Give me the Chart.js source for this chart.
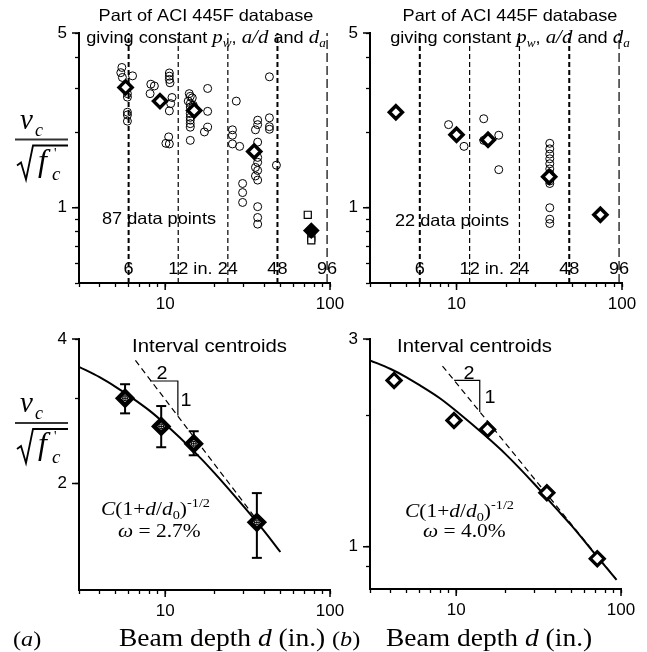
<!DOCTYPE html>
<html>
<head>
<meta charset="utf-8">
<script src="https://cdn.jsdelivr.net/npm/chart.js@4"></script>
<style>
  body { margin: 0; background: #fff; }
  #wrap { position: relative; width: 647px; height: 652px; }
  #wrap canvas { position: absolute; left: 0; top: 0; }
</style>
</head>
<body>
<div id="wrap">
  <canvas id="tl" width="647" height="652"></canvas>
  <canvas id="tr" width="647" height="652"></canvas>
  <canvas id="bl" width="647" height="652"></canvas>
  <canvas id="br" width="647" height="652"></canvas>
</div>
<script>
// ---- data (d in inches, y = v_c / sqrt(f'c)) ----
// (a) top: 87 tests of the ACI 445F subset
const testsA_d = [5.46, 5.38, 5.5, 6.34, 5.9, 5.9, 5.9, 5.9, 5.9,
  8.18, 8.6, 8.1, 10.6, 10.6, 10.6, 10.7, 11.0, 10.8, 10.6, 10.5, 10.1, 10.6,
  14.0, 14.2, 13.8, 14.2, 14.2, 14.2, 14.2, 14.2, 14.2, 14.2, 14.2, 14.6, 14.8, 18.1, 18.1, 18.1, 17.3,
  27.0, 25.6, 25.6, 25.6, 28.3, 29.5, 29.5, 29.5,
  42.9, 36.4, 36.4, 35.3, 42.9, 42.9, 42.9, 36.4, 36.4, 35.3, 36.4, 35.3, 36.4, 36.4, 47.3, 36.4, 36.4, 36.4];
const testsA_v = [3.64, 3.47, 3.32, 3.37, 2.86, 2.77, 2.41, 2.35, 2.22,
  3.12, 3.07, 2.86, 3.46, 3.36, 3.26, 3.16, 2.76, 2.61, 2.44, 1.92, 1.81, 1.80,
  2.86, 2.79, 2.67, 2.61, 2.53, 2.38, 2.30, 2.24, 2.17, 2.10, 1.86, 2.75, 2.57, 3.0, 2.43, 2.10, 2.01,
  2.67, 2.05, 1.95, 1.80, 1.76, 1.25, 1.15, 1.05,
  3.34, 2.24, 2.15, 2.05, 2.29, 2.11, 2.06, 1.83, 1.59, 1.45, 1.41, 1.34, 1.29, 1.52, 1.48, 1.01, 0.914, 0.86];
const largeA_d = [73.3, 77, 77];
const largeA_v = [0.937, 0.76, 0.74];
const largeMeanA_d = [77];
const largeMeanA_v = [0.81];
const meanA_d = [5.75, 9.3, 15.0, 34.7];
const meanA_v = [3.03, 2.67, 2.45, 1.68];

// (b) top: 22 tests
const testsB_d = [8.95, 11.1, 14.6, 14.6, 18.0, 18.0, 36.6, 36.6, 36.6, 36.6, 36.6, 36.6, 36.6, 36.6, 36.6, 36.6, 36.6, 36.6];
const testsB_v = [2.15, 1.76, 2.27, 1.86, 1.95, 1.42, 1.81, 1.72, 1.64, 1.57, 1.50, 1.43, 1.37, 1.28, 1.25, 1.0, 0.90, 0.865];
const meanB_d = [4.3, 10.0, 15.5, 36.3, 74.0];
const meanB_v = [2.41, 1.96, 1.87, 1.33, 0.937];

const intervalEdges = [6, 12, 24, 48, 96];
const intervalLabels = ['6', '12 in.', '24', '48', '96'];

// (a) bottom: interval centroids with scatter bands and size-effect fit
const centA_d = [5.71, 9.46, 14.9, 36.0];
const centA_v = [3.01, 2.63, 2.42, 1.66];
const centA_lo = [2.80, 2.38, 2.29, 1.40];
const centA_hi = [3.22, 2.90, 2.57, 1.91];
const fitA_d = [3, 4, 5, 6, 8, 10, 15, 20, 30, 40, 50];
const fitA_v = [3.50, 3.33, 3.18, 3.05, 2.84, 2.66, 2.33, 2.10, 1.79, 1.59, 1.44];
const slopeA_d = [6.6, 36];
const slopeA_v = [3.61, 1.68];
const triA_d = [8.11, 11.94, 11.94];
const triA_v = [3.27, 3.27, 2.77];

// (b) bottom
const centB_d = [4.2, 9.7, 15.5, 35.5, 71.8];
const centB_v = [2.41, 1.95, 1.86, 1.33, 0.939];
const fitB_d = [3, 4, 5, 6, 8, 10, 15, 20, 30, 40, 50, 70, 94];
const fitB_v = [2.68, 2.56, 2.45, 2.35, 2.19, 2.05, 1.80, 1.63, 1.39, 1.23, 1.12, 0.96, 0.84];
const slopeB_d = [8.26, 92.9];
const slopeB_v = [2.60, 0.845];
const triB_d = [9.72, 13.9, 13.9];
const triB_v = [2.41, 2.41, 2.04];

// axes
const xTickVals = [3, 4, 5, 6, 7, 8, 9, 10, 20, 30, 40, 50, 60, 70, 80, 90, 100];
const xTickText = ['10', '100'];
const yTickTop = [0.5, 0.6, 0.7, 0.8, 0.9, 1, 2, 3, 4, 5];
const yTextTop = ['1', '5'];
const yTickA = [2, 3, 4];
const yTextA = ['2', '4'];
const yTickB = [0.9, 1, 2, 3];
const yTextB = ['1', '3'];

// ---- helpers ----
const W = 647, H = 652, XH = 40;
const SANS = "'Liberation Sans', Arial, sans-serif";
const SERIF = "'Liberation Serif', 'Times New Roman', serif";
const SX = 1.1; // text in the figure is a little wide

const pts = (xs, ys) => xs.map((x, i) => ({ x, y: ys[i] }));

function runs(ctx, parts, x, y, align) {
  // parts: [text, font, dy]
  ctx.save();
  ctx.fillStyle = '#000';
  ctx.textBaseline = 'alphabetic';
  ctx.textAlign = 'left';
  let w = 0;
  parts.forEach(p => { ctx.font = p[1]; w += ctx.measureText(p[0]).width; });
  let cx = align === 'center' ? -w / 2 : 0;
  ctx.translate(x, y);
  ctx.scale(SX, 1);
  parts.forEach(p => {
    ctx.font = p[1];
    ctx.fillText(p[0], cx, p[2] || 0);
    cx += ctx.measureText(p[0]).width;
  });
  ctx.restore();
}

function fracLabel(ctx, barY) {
  ctx.save();
  ctx.fillStyle = '#000';
  ctx.textBaseline = 'alphabetic';
  ctx.font = 'italic 29px ' + SERIF;
  ctx.fillText('v', 20, barY - 11);
  ctx.font = 'italic 18px ' + SERIF;
  ctx.fillText('c', 35, barY - 4);
  ctx.strokeStyle = '#333';
  ctx.lineWidth = 2;
  ctx.beginPath(); ctx.moveTo(15, barY); ctx.lineTo(68, barY); ctx.stroke();
  ctx.strokeStyle = '#000';
  ctx.lineWidth = 1.8;
  ctx.beginPath();
  ctx.moveTo(17, barY + 26); ctx.lineTo(21, barY + 23); ctx.lineTo(26, barY + 40);
  ctx.lineTo(33, barY + 6); ctx.lineTo(68, barY + 6);
  ctx.stroke();
  ctx.font = 'italic 32px ' + SERIF;
  ctx.fillText('f', 38, barY + 31);
  ctx.font = '14px ' + SERIF;
  ctx.fillText("'", 54, barY + 18);
  ctx.font = 'italic 19px ' + SERIF;
  ctx.fillText('c', 52, barY + 40);
  ctx.restore();
}

function majorTicks(chart, xs, ys) {
  const ctx = chart.ctx, a = chart.chartArea;
  const sx = chart.scales.x, sy = chart.scales.y;
  ctx.save();
  ctx.strokeStyle = '#000';
  ctx.lineWidth = 1.5;
  ctx.beginPath();
  xs.forEach(v => { const p = sx.getPixelForValue(v); ctx.moveTo(p, a.bottom); ctx.lineTo(p, a.bottom + 7); });
  ys.forEach(v => { const p = sy.getPixelForValue(v); ctx.moveTo(a.left - 7, p); ctx.lineTo(a.left, p); });
  ctx.stroke();
  ctx.restore();
}

function edgeLabels(chart) {
  const ctx = chart.ctx, sx = chart.scales.x;
  intervalLabels.forEach((t, i) => {
    const p = sx.getPixelForValue(intervalEdges[i]);
    ctx.font = '16.5px ' + SANS;
    const hw = ctx.measureText(t.split(' ')[0]).width * SX;
    runs(ctx, [[t, '16.5px ' + SANS]], p - hw / 2, 274, 'left');
  });
}

function title(ctx, cx) {
  runs(ctx, [['Part of ACI 445F database', '16.5px ' + SANS]], cx, 21, 'center');
  runs(ctx, [
    ['giving constant ', '16.5px ' + SANS],
    ['p', 'italic 19px ' + SERIF], ['w', 'italic 12px ' + SERIF, 4],
    [', ', '16.5px ' + SANS],
    ['a/d', 'italic 19px ' + SERIF],
    [' and ', '16.5px ' + SANS],
    ['d', 'italic 19px ' + SERIF], ['a', 'italic 12px ' + SERIF, 4]
  ], cx, 43, 'center');
}

function logScale(min, max, vals, texts, isX, size) {
  return {
    type: 'logarithmic', min, max,
    position: isX ? 'bottom' : 'left',
    afterBuildTicks: s => { s.ticks = vals.map(v => ({ value: v })); },
    afterFit: s => { if (isX) s.height = size; else s.width = size; },
    grid: { drawOnChartArea: false, drawTicks: true, tickLength: 4, tickColor: '#000', tickWidth: 1.3 },
    border: { display: true, color: '#000', width: 2 },
    ticks: {
      autoSkip: false, maxRotation: 0, color: '#000', padding: isX ? 7 : 8,
      font: { family: SANS, size: 17 },
      callback: v => texts.includes(String(v)) ? String(v) : ''
    }
  };
}

function makePanel(id, area, yMin, yMax, yVals, yTexts, datasets, extra) {
  new Chart(document.getElementById(id), {
    type: 'scatter',
    data: { datasets },
    options: {
      responsive: false, animation: false, events: [],
      layout: { padding: { left: 0, top: area.top, right: W - area.right, bottom: H - area.bottom - XH } },
      plugins: { legend: { display: false }, tooltip: { enabled: false } },
      scales: {
        x: logScale(3, 100, xTickVals, xTickText, true, XH),
        y: logScale(yMin, yMax, yVals, yTexts, false, area.left)
      }
    },
    plugins: [{ id: 'extra', afterDraw: chart => extra(chart) }]
  });
}

const circleSet = (xs, ys) => ({ data: pts(xs, ys), pointStyle: 'circle', pointRadius: 4, borderWidth: 1,
  borderColor: '#000', backgroundColor: 'rgba(0,0,0,0)' });
const diamondSet = (xs, ys, fill, r, bw) => ({ data: pts(xs, ys), pointStyle: 'rectRot', pointRadius: r, borderWidth: bw,
  borderColor: '#000', backgroundColor: fill });
const lineSet = (xs, ys, bw, dash, smooth) => ({ data: pts(xs, ys), showLine: true, pointRadius: 0, borderWidth: bw,
  borderColor: '#000', borderDash: dash, fill: false, cubicInterpolationMode: smooth ? 'monotone' : 'default' });

function edgeSets(yMin, yMax) {
  return intervalEdges.map((e, i) => {
    const thick = i === 0 || i === 3;
    return lineSet([e, e], [yMin, yMax], thick ? 2 : 1.2, i === 4 ? [9, 4] : [5, 3], false);
  });
}

// ---- top left ----
makePanel('tl', { left: 79, right: 330, top: 33, bottom: 283 }, 0.5, 5, yTickTop, yTextTop, [
  diamondSet(largeMeanA_d, largeMeanA_v, '#000', 7, 2),
  diamondSet(meanA_d, meanA_v, '#fff', 6.5, 3.5),
  { data: pts(largeA_d, largeA_v), pointStyle: 'rect', pointRadius: 5, borderWidth: 1.2, borderColor: '#000', backgroundColor: '#fff' },
  circleSet(testsA_d, testsA_v),
  ...edgeSets(0.5, 5)
], chart => {
  const ctx = chart.ctx;
  majorTicks(chart, [10, 100], [1, 5]);
  title(ctx, 206);
  edgeLabels(chart);
  runs(ctx, [['87 data points', '16.5px ' + SANS]], 102, 224, 'left');
  fracLabel(ctx, 139.5);
});

// ---- top right ----
makePanel('tr', { left: 370, right: 622, top: 33, bottom: 283 }, 0.5, 5, yTickTop, yTextTop, [
  diamondSet(meanB_d, meanB_v, '#fff', 6.5, 3.5),
  circleSet(testsB_d, testsB_v),
  ...edgeSets(0.5, 5)
], chart => {
  const ctx = chart.ctx;
  majorTicks(chart, [10, 100], [1, 5]);
  title(ctx, 510);
  edgeLabels(chart);
  runs(ctx, [['22 data points', '16.5px ' + SANS]], 395, 226, 'left');
});

// ---- bottom left ----
const errA = [];
centA_d.forEach((d, i) => { errA.push({ x: d, y: centA_lo[i] }, { x: d, y: centA_hi[i] }, { x: d, y: null }); });
makePanel('bl', { left: 79, right: 330, top: 339, bottom: 590 }, 1.2, 4, yTickA, yTextA, [
  { data: pts(centA_d, centA_v), pointStyle: 'cross', pointRadius: 3, borderWidth: 1, borderColor: '#000' },
  { data: pts(centA_d, centA_v), pointStyle: 'circle', pointRadius: 2.5, borderWidth: 1, borderColor: '#000', backgroundColor: '#fff' },
  diamondSet(centA_d, centA_v, '#fff', 7, 4.5),
  { data: errA, showLine: true, spanGaps: false, pointStyle: 'line', pointRadius: 5, pointBorderWidth: 2,
    borderWidth: 2, borderColor: '#000', pointBorderColor: '#000' },
  lineSet(fitA_d, fitA_v, 2, [], true),
  lineSet(slopeA_d, slopeA_v, 1.2, [6, 4], false),
  lineSet(triA_d, triA_v, 1.2, [], false)
], chart => {
  const ctx = chart.ctx;
  majorTicks(chart, [10, 100], [2, 4]);
  runs(ctx, [['Interval centroids', '18.5px ' + SANS]], 132, 352, 'left');
  runs(ctx, [['2', '18px ' + SANS]], 162, 379, 'center');
  runs(ctx, [['1', '18px ' + SANS]], 186, 406, 'center');
  runs(ctx, [['C', 'italic 19.5px ' + SERIF], ['(1+', '19.5px ' + SERIF], ['d', 'italic 19.5px ' + SERIF], ['/', '19.5px ' + SERIF],
    ['d', 'italic 19.5px ' + SERIF], ['0', '13px ' + SERIF, 4], [')', '19.5px ' + SERIF], ['-1/2', '13px ' + SERIF, -8]], 101, 515, 'left');
  runs(ctx, [['\u03c9', 'italic 19.5px ' + SERIF], [' = 2.7%', '19.5px ' + SERIF]], 118, 537, 'left');
  runs(ctx, [['(', '22px ' + SERIF], ['a', 'italic 22px ' + SERIF], [')', '22px ' + SERIF]], 13, 646, 'left');
  runs(ctx, [['Beam depth ', '25px ' + SERIF], ['d', 'italic 25px ' + SERIF], [' (in.)', '25px ' + SERIF]], 119, 646, 'left');
  fracLabel(ctx, 423);
});

// ---- bottom right ----
makePanel('br', { left: 370, right: 621, top: 339, bottom: 589 }, 0.8, 3, yTickB, yTextB, [
  diamondSet(centB_d, centB_v, '#fff', 7, 3.2),
  lineSet(fitB_d, fitB_v, 2, [], true),
  lineSet(slopeB_d, slopeB_v, 1.2, [6, 4], false),
  lineSet(triB_d, triB_v, 1.2, [], false)
], chart => {
  const ctx = chart.ctx;
  majorTicks(chart, [10, 100], [1, 3]);
  runs(ctx, [['Interval centroids', '18.5px ' + SANS]], 397, 352, 'left');
  runs(ctx, [['2', '18px ' + SANS]], 469, 379, 'center');
  runs(ctx, [['1', '18px ' + SANS]], 490, 403, 'center');
  runs(ctx, [['C', 'italic 19.5px ' + SERIF], ['(1+', '19.5px ' + SERIF], ['d', 'italic 19.5px ' + SERIF], ['/', '19.5px ' + SERIF],
    ['d', 'italic 19.5px ' + SERIF], ['0', '13px ' + SERIF, 4], [')', '19.5px ' + SERIF], ['-1/2', '13px ' + SERIF, -8]], 405, 517, 'left');
  runs(ctx, [['\u03c9', 'italic 19.5px ' + SERIF], [' = 4.0%', '19.5px ' + SERIF]], 423, 537, 'left');
  runs(ctx, [['(', '22px ' + SERIF], ['b', 'italic 22px ' + SERIF], [')', '22px ' + SERIF]], 332, 646, 'left');
  runs(ctx, [['Beam depth ', '25px ' + SERIF], ['d', 'italic 25px ' + SERIF], [' (in.)', '25px ' + SERIF]], 386, 646, 'left');
});
</script>
</body>
</html>
